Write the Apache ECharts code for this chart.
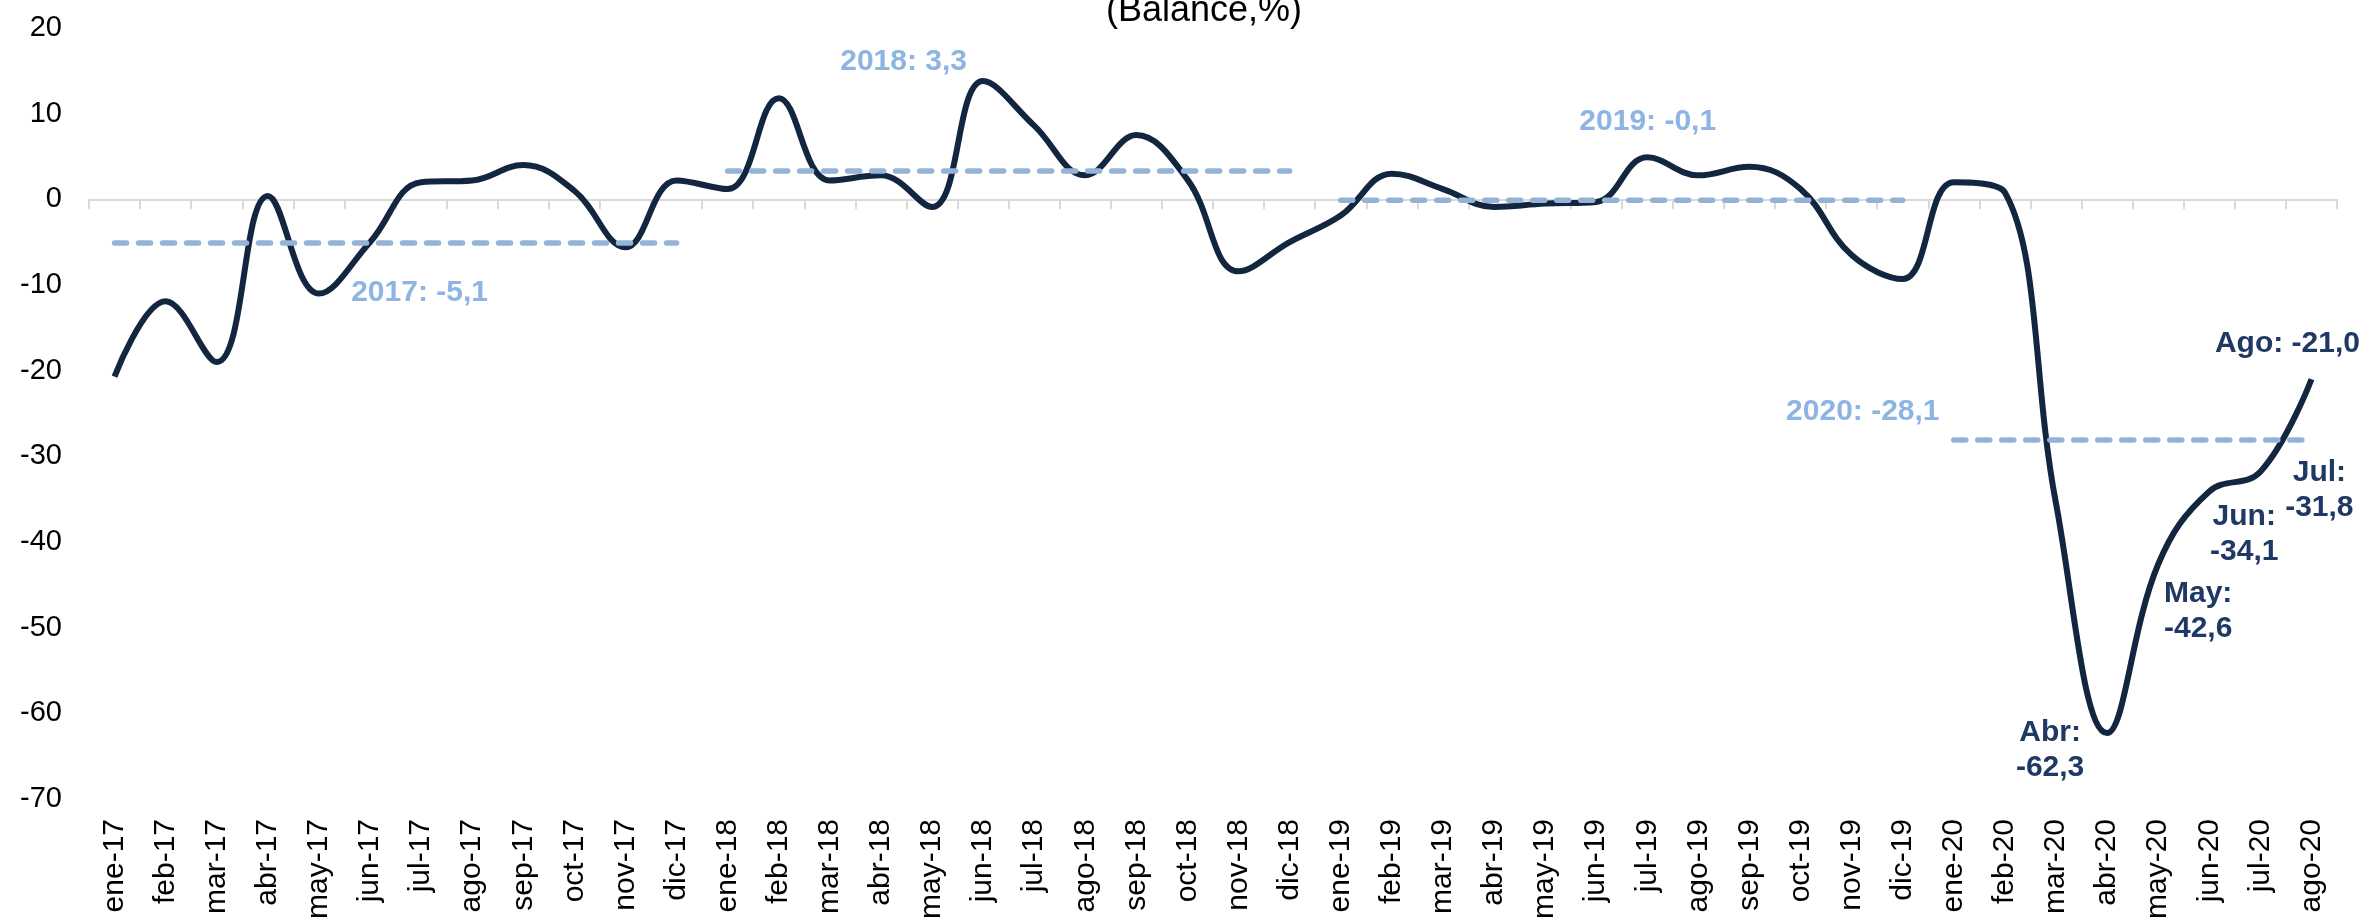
<!DOCTYPE html>
<html>
<head>
<meta charset="utf-8">
<style>
  html, body { margin: 0; padding: 0; background: #fff; }
  #chart { width: 2371px; height: 922px; }
</style>
<script src="https://cdn.jsdelivr.net/npm/echarts@6/dist/echarts.min.js"></script>
</head>
<body>
<div id="chart"></div>
<script>
// months on the x axis
var categories = [
  'ene-17','feb-17','mar-17','abr-17','may-17','jun-17','jul-17','ago-17','sep-17','oct-17','nov-17','dic-17',
  'ene-18','feb-18','mar-18','abr-18','may-18','jun-18','jul-18','ago-18','sep-18','oct-18','nov-18','dic-18',
  'ene-19','feb-19','mar-19','abr-19','may-19','jun-19','jul-19','ago-19','sep-19','oct-19','nov-19','dic-19',
  'ene-20','feb-20','mar-20','abr-20','may-20','jun-20','jul-20','ago-20'
];
// monthly balance (%)
var balance = [
  -20.7, -11.9, -19.0, 0.4, -11.0, -5.0, 2.0, 2.2, 4.0, 1.0, -5.6, 2.2,
  1.2, 11.8, 2.2, 2.8, -0.9, 13.8, 8.6, 2.8, 7.5, 2.3, -8.4, -5.0,
  -1.9, 3.0, 1.2, -0.9, -0.5, -0.3, 4.9, 2.8, 3.8, 1.2, -6.5, -9.3,
  2.0, 0.8, -35.5, -62.3, -42.6, -34.1, -31.8, -21.0
];
// yearly averages
var years = ['2017', '2018', '2019', '2020'];
var yearAvg = [-5.1, 3.3, -0.1, -28.1];
var yearFirst = ['ene-17', 'ene-18', 'ene-19', 'ene-20'];
var yearLast = ['dic-17', 'dic-18', 'dic-19', 'ago-20'];
// months with a value label
var labeledMonths = ['abr-20', 'may-20', 'jun-20', 'jul-20', 'ago-20'];
var yTicks = { min: -70, max: 20, step: 10 };

var FONT = '"Liberation Sans", Arial, sans-serif';
var NAVY = '#13263f';
var NAVY_TEXT = '#1f3864';
var LIGHT = '#95b3d7';
var LIGHT_TEXT = '#8db4e2';

function fmt(v) {
  return v.toFixed(1).replace('.', ',');
}

// label placement for the monthly labels (offset from the point)
var monthLabelOffset = {
  'abr-20': [-57, 17],
  'may-20': [40, 47],
  'jun-20': [35, 43],
  'jul-20': [59, 19],
  'ago-20': [-24, -35]
};
var avgLabelOffset = [[305, 50], [176, -109], [307, -78], [-91, -28]];

var mainData = balance.map(function (v, i) {
  var cat = categories[i];
  if (labeledMonths.indexOf(cat) < 0) return v;
  var m = cat.split('-')[0];
  m = m.charAt(0).toUpperCase() + m.slice(1);
  var sep = cat === 'ago-20' ? ' ' : '\n';
  return {
    value: v,
    symbol: 'circle',
    symbolSize: 1,
    itemStyle: { color: 'rgba(0,0,0,0)' },
    label: {
      show: true,
      position: 'inside',
      offset: monthLabelOffset[cat],
      formatter: m + ':' + sep + fmt(v),
      color: NAVY_TEXT,
      fontFamily: FONT,
      fontWeight: 'bold',
      fontSize: 30,
      lineHeight: 35,
      align: 'center',
      verticalAlign: 'middle'
    }
  };
});

var avgSeries = years.map(function (y, k) {
  return {
    type: 'line',
    xAxisIndex: 0,
    symbol: 'none',
    showAllSymbol: true,
    silent: true,
    z: 3,
    lineStyle: { color: LIGHT, width: 5.5, type: [12, 12], cap: 'round' },
    data: [
      {
        value: [yearFirst[k], yearAvg[k]],
        symbol: 'circle',
        symbolSize: 1,
        itemStyle: { color: 'rgba(0,0,0,0)' },
        label: {
          show: true,
          position: 'inside',
          offset: avgLabelOffset[k],
          formatter: y + ': ' + fmt(yearAvg[k]),
          color: LIGHT_TEXT,
          fontFamily: FONT,
          fontWeight: 'bold',
          fontSize: 30
        }
      },
      [yearLast[k], yearAvg[k]]
    ]
  };
});

var chart = echarts.init(document.getElementById('chart'));
chart.setOption({
  animation: false,
  backgroundColor: '#fff',
  grid: { left: 89, right: 34, top: 28, bottom: 122, containLabel: false },
  graphic: [{
    type: 'text',
    x: 1204,
    y: 11,
    style: {
      text: '(Balance,%)',
      font: '36px ' + FONT,
      fill: '#000',
      textAlign: 'center',
      textVerticalAlign: 'middle'
    }
  }],
  xAxis: [
    {
      type: 'category',
      data: categories,
      position: 'bottom',
      axisLine: { show: false, onZero: false },
      axisTick: { show: false },
      axisLabel: {
        interval: 0,
        rotate: 90,
        margin: 20,
        color: '#000',
        fontFamily: FONT,
        fontSize: 30
      }
    },
    {
      type: 'category',
      data: categories,
      position: 'bottom',
      axisLine: { show: true, onZero: true, lineStyle: { color: '#d9d9d9', width: 2 } },
      axisTick: { show: true, interval: 0, length: 10, lineStyle: { color: '#d9d9d9', width: 2 } },
      axisLabel: { show: false },
      splitLine: { show: false }
    }
  ],
  yAxis: {
    type: 'value',
    min: yTicks.min,
    max: yTicks.max,
    interval: yTicks.step,
    axisLine: { show: false },
    axisTick: { show: false },
    splitLine: { show: false },
    axisLabel: {
      margin: 27,
      color: '#000',
      fontFamily: FONT,
      fontSize: 29
    }
  },
  series: [{
    type: 'line',
    xAxisIndex: 0,
    data: mainData,
    smooth: 0.4,
    symbol: 'none',
    showAllSymbol: true,
    silent: true,
    z: 2,
    lineStyle: { color: NAVY, width: 6 }
  }].concat(avgSeries)
});
</script>
</body>
</html>
